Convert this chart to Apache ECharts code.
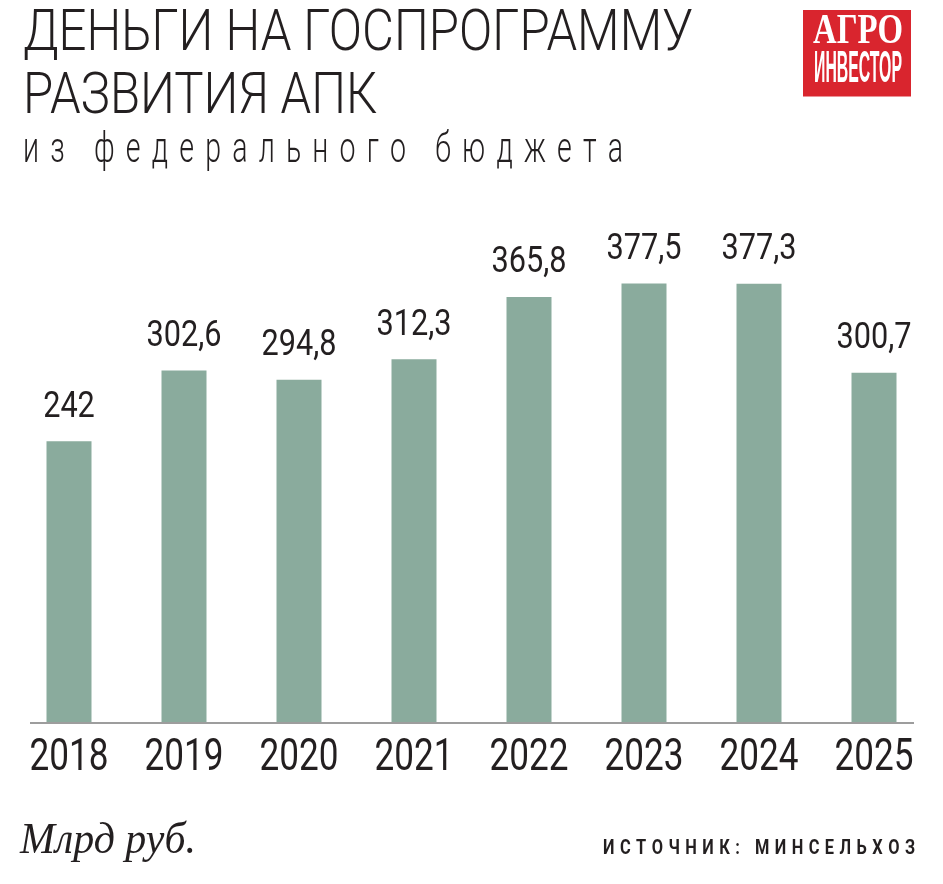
<!DOCTYPE html>
<html>
<head>
<meta charset="utf-8">
<script src="https://cdn.jsdelivr.net/npm/echarts@6/dist/echarts.min.js"></script>
<style>
html,body{margin:0;padding:0;background:#fff;}
#c{width:943px;height:884px;}
</style>
</head>
<body>
<div id="c"></div>
<script>
// ---- data ----
const years = ['2018','2019','2020','2021','2022','2023','2024','2025'];
const values = [242, 302.6, 294.8, 312.3, 365.8, 377.5, 377.3, 300.7];
const titleLines = ['ДЕНЬГИ НА ГОСПРОГРАММУ', 'РАЗВИТИЯ АПК'];
const subtitle = 'из федерального бюджета';
const unitText = 'Млрд руб.';
const sourceText = 'ИСТОЧНИК: МИНСЕЛЬХОЗ';
const logoLines = ['АГРО', 'ИНВЕСТОР'];

// ---- helpers ----
const TXT = '#231f20';
const SANS = 'Roboto, "Liberation Sans", sans-serif';
const ctx = document.createElement('canvas').getContext('2d');
function measure(t, size, family, weight, style) {
  ctx.font = (style || 'normal') + ' ' + (weight || 'normal') + ' ' + size + 'px ' + family;
  return ctx.measureText(t).width;
}
function fitText(t, left, mid, size, family, weight, width, fill, style, sxOverride) {
  const w = measure(t, size, family, weight, style);
  const sx = sxOverride || width / w;
  return {
    el: {
      type: 'text', x: left, y: mid, scaleX: sx, z: 10,
      style: { text: t, fontSize: size, fontFamily: family, fontWeight: weight || 'normal',
               fontStyle: style || 'normal', fill: fill || TXT, align: 'left', verticalAlign: 'middle' }
    },
    sx: sx
  };
}
function spacedText(t, left, right, mid, size, family, weight, sx) {
  const chars = Array.from(t);
  const ws = chars.map(c => measure(c, size, family, weight) * sx);
  const total = ws.reduce((a, b) => a + b, 0);
  const sp = (right - left - total) / (chars.length - 1);
  const els = [];
  let x = left;
  chars.forEach((c, i) => {
    if (c !== ' ') {
      els.push({ type: 'text', x: x, y: mid, scaleX: sx, z: 10,
        style: { text: c, fontSize: size, fontFamily: family, fontWeight: weight || 'normal',
                 fill: TXT, align: 'left', verticalAlign: 'middle' } });
    }
    x += ws[i] + sp;
  });
  return els;
}

const graphics = [];
// title
const t1 = fitText(titleLines[0], 23, 35, 58, SANS, 300, 670);
graphics.push(t1.el);
graphics.push(fitText(titleLines[1], 23, 98, 58, SANS, 300, 0, TXT, 'normal', t1.sx).el);
// subtitle
graphics.push(...spacedText(subtitle, 23, 623, 151, 42, SANS, 300, 0.68));
// logo
graphics.push({ type: 'rect', shape: { x: 803, y: 10, width: 108, height: 86.5 }, style: { fill: '#d9252e' }, z: 5 });
graphics.push(fitText(logoLines[0], 813, 47 - 0.35 * 42, 42, '"Liberation Serif", serif', 'bold', 90, '#fff').el);
graphics.push(fitText(logoLines[1], 814, 85 - 0.35 * 45, 45, '"Liberation Sans", sans-serif', 'bold', 88, '#fff').el);
// axis line
graphics.push({ type: 'rect', shape: { x: 30, y: 722, width: 884, height: 2 }, style: { fill: '#9d9d9d' }, z: 20 });
// footer
graphics.push(fitText(unitText, 20, 857 - 0.35 * 44, 44, '"Liberation Serif", serif', 'normal', 176, TXT, 'italic').el);
graphics.push(...spacedText(sourceText, 603, 915, 855.7 - 0.35 * 21, 21, SANS, 'bold', 0.78));

// label scale factors (condensed look)
const YEAR_FS = 44, VAL_FS = 36;
const yearSx = 79 / measure('2018', YEAR_FS, SANS, 'normal');
const valSx = 75 / measure('365,8', VAL_FS, SANS, 'normal');

const chart = echarts.init(document.getElementById('c'));
chart.setOption({
  backgroundColor: '#ffffff',
  animation: false,
  grid: { left: 11.5, width: 920, top: 257.2, height: 465.8 },
  xAxis: {
    type: 'category', data: years,
    axisLine: { show: false }, axisTick: { show: false }, axisLabel: { show: false }
  },
  yAxis: { type: 'value', min: 0, max: 400, show: false, splitLine: { show: false } },
  series: [{
    type: 'bar', data: values, barWidth: 45,
    itemStyle: { color: '#8aab9d' }
  }, {
    // value labels above bars
    type: 'custom', data: values.map((v, i) => [i, v]), z: 10,
    renderItem: (params, api) => {
      const c = api.coord([api.value(0), api.value(1)]);
      return { type: 'text', x: c[0], y: c[1] - 21 - 0.35 * VAL_FS, scaleX: valSx,
        style: { text: String(api.value(1)).replace('.', ','), fontSize: VAL_FS, fontFamily: SANS,
                 fill: TXT, align: 'center', verticalAlign: 'middle' } };
    }
  }, {
    // category (year) labels under the axis
    type: 'custom', data: years.map((y, i) => [i, 0]), z: 10,
    renderItem: (params, api) => {
      const c = api.coord([api.value(0), 0]);
      return { type: 'text', x: c[0], y: c[1] + 51 - 0.35 * YEAR_FS, scaleX: yearSx,
        style: { text: years[params.dataIndex], fontSize: YEAR_FS, fontFamily: SANS,
                 fill: TXT, align: 'center', verticalAlign: 'middle' } };
    }
  }],
  graphic: graphics
});
</script>
</body>
</html>
